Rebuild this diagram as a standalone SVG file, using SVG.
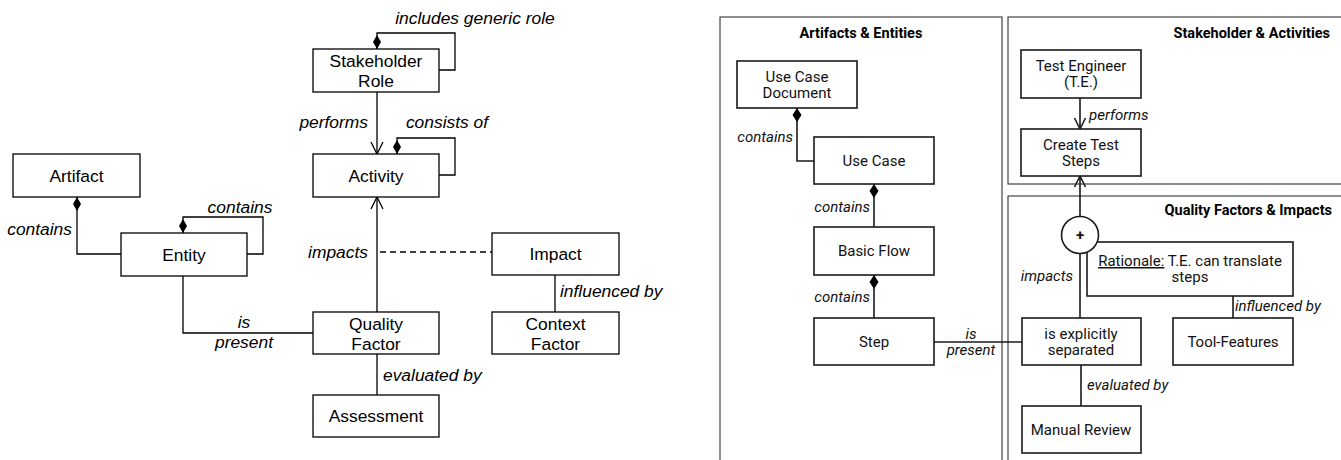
<svg xmlns="http://www.w3.org/2000/svg" width="1341" height="460" viewBox="0 0 1341 460">
<style>
.bx{fill:#fff;stroke:#000;stroke-width:1.3}
.bx2{fill:#fff;stroke:#1a1a1a;stroke-width:1.6}
.ln{fill:none;stroke:#000;stroke-width:1.3}
.ln2{fill:none;stroke:#1a1a1a;stroke-width:1.6}
.ct{fill:none;stroke:#444;stroke-width:1.2}
.t{font-family:"Liberation Sans",Arial,sans-serif;font-size:17.4px;fill:#000;text-anchor:middle}
.l{font-family:"Liberation Sans",Arial,sans-serif;font-size:17.4px;font-style:italic;fill:#000}
.r{font-family:Roboto,"Noto Sans",sans-serif;font-size:15px;fill:#111;text-anchor:middle}
.ri{font-family:Roboto,"Noto Sans",sans-serif;font-size:15px;font-style:italic;fill:#111}
.h{font-family:Roboto,"Noto Sans",sans-serif;font-size:14.5px;font-weight:bold;fill:#000}
</style>
<defs>
<marker id="dia" markerWidth="10" markerHeight="14" refX="5" refY="0" orient="auto" markerUnits="userSpaceOnUse" viewBox="-5 0 10 14"><path d="M0,0 L4.5,6.5 L0,13 L-4.5,6.5 Z" fill="#000"/></marker>
</defs>
<rect width="1341" height="460" fill="#fff"/>

<!-- containers right -->
<g id="containers">
<rect class="ct" x="720" y="17" width="282" height="460"/>
<rect class="ct" x="1008" y="17" width="345" height="167"/>
<rect class="ct" x="1008" y="196" width="345" height="280"/>
<text class="h" x="861" y="38" text-anchor="middle">Artifacts &amp; Entities</text>
<text class="h" x="1330" y="38" text-anchor="end">Stakeholder &amp; Activities</text>
<text class="h" x="1332" y="215" text-anchor="end">Quality Factors &amp; Impacts</text>
</g>

<!-- connectors -->
<g id="connectors">
<!-- left -->
<path class="ln" d="M77,197 V254 H121"/>
<path d="M77,197 L81,204 L77,211 L73,204 Z" fill="#000"/>
<path class="ln" d="M183,233 V217 H263 V254 H247"/>
<path d="M183,233 L179,226 L183,219 L187,226 Z" fill="#000"/>
<path class="ln" d="M183,276 V333 H313"/>
<path class="ln" d="M377,49 V33 H455 V70 H439"/>
<path d="M377,49 L373,42 L377,35 L381,42 Z" fill="#000"/>
<path class="ln" d="M377,92 V154"/>
<path class="ln" d="M371,142 L377,154 L383,142"/>
<path class="ln" d="M397,154 V138 H455 V175 H439"/>
<path d="M397,154 L393,147 L397,140 L401,147 Z" fill="#000"/>
<path class="ln" d="M377,312 V197"/>
<path class="ln" d="M371,209 L377,197 L383,209"/>
<path class="ln" d="M380,252 H492" stroke-dasharray="6,4"/>
<path class="ln" d="M555,275 V312"/>
<path class="ln" d="M377,354 V395"/>
<!-- right -->
<path class="ln2" d="M797,108 V161 H814"/>
<path d="M797,108 L801.5,115 L797,122 L792.5,115 Z" fill="#000"/>
<path class="ln2" d="M874,184 V227"/>
<path d="M874,184 L878.5,191 L874,198 L869.5,191 Z" fill="#000"/>
<path class="ln2" d="M874,275 V318"/>
<path d="M874,275 L878.5,282 L874,289 L869.5,282 Z" fill="#000"/>
<path class="ln2" d="M934,342 H1022"/>
<path class="ln2" d="M1080,98 V129"/>
<path class="ln2" d="M1074.5,118 L1080,129 L1085.5,118"/>
<path class="ln2" d="M1080,217 V176"/>
<path class="ln2" d="M1074.5,187 L1080,176 L1085.5,187"/>
<path class="ln2" d="M1080,318 V253"/>
<path class="ln2" d="M1233,296 V318"/>
<path class="ln2" d="M1081,365 V406"/>
</g>

<!-- left nodes -->
<g id="artifact"><rect class="bx" x="13" y="154" width="127" height="43"/><text class="t" x="76.5" y="181.5">Artifact</text></g>
<g id="stakeholder-role"><rect class="bx" x="313" y="49" width="126" height="43"/><text class="t" x="376" y="67">Stakeholder</text><text class="t" x="376" y="87">Role</text></g>
<g id="activity"><rect class="bx" x="313" y="154" width="126" height="43"/><text class="t" x="376" y="181.5">Activity</text></g>
<g id="entity"><rect class="bx" x="121" y="233" width="126" height="43"/><text class="t" x="184" y="260.5">Entity</text></g>
<g id="quality-factor"><rect class="bx" x="313" y="312" width="126" height="42"/><text class="t" x="376" y="330">Quality</text><text class="t" x="376" y="350">Factor</text></g>
<g id="impact"><rect class="bx" x="492" y="233" width="127" height="42"/><text class="t" x="555.5" y="260">Impact</text></g>
<g id="context-factor"><rect class="bx" x="492" y="312" width="127" height="42"/><text class="t" x="555.5" y="330">Context</text><text class="t" x="555.5" y="350">Factor</text></g>
<g id="assessment"><rect class="bx" x="313" y="395" width="126" height="42"/><text class="t" x="376" y="422">Assessment</text></g>

<!-- left labels -->
<g id="left-labels">
<text class="l" x="72" y="235" text-anchor="end">contains</text>
<text class="l" x="240" y="213" text-anchor="middle">contains</text>
<text class="l" x="475" y="24" text-anchor="middle">includes generic role</text>
<text class="l" x="368" y="128" text-anchor="end">performs</text>
<text class="l" x="447" y="128" text-anchor="middle">consists of</text>
<text class="l" x="368" y="258" text-anchor="end">impacts</text>
<text class="l" x="560" y="297">influenced by</text>
<text class="l" x="383" y="381">evaluated by</text>
<text class="l" x="244" y="328" text-anchor="middle">is</text>
<text class="l" x="244" y="348" text-anchor="middle">present</text>
</g>

<!-- right nodes -->
<g id="use-case-document"><rect class="bx2" x="737" y="61" width="120" height="47"/><text class="r" x="797" y="82">Use Case</text><text class="r" x="797" y="98">Document</text></g>
<g id="use-case"><rect class="bx2" x="814" y="137" width="120" height="47"/><text class="r" x="874" y="166">Use Case</text></g>
<g id="basic-flow"><rect class="bx2" x="814" y="227" width="120" height="48"/><text class="r" x="874" y="256">Basic Flow</text></g>
<g id="step"><rect class="bx2" x="814" y="318" width="120" height="47"/><text class="r" x="874" y="347">Step</text></g>
<g id="test-engineer"><rect class="bx2" x="1021" y="50" width="120" height="48"/><text class="r" x="1081" y="71">Test Engineer</text><text class="r" x="1081" y="87">(T.E.)</text></g>
<g id="create-test-steps"><rect class="bx2" x="1021" y="129" width="120" height="47"/><text class="r" x="1081" y="150">Create Test</text><text class="r" x="1081" y="166">Steps</text></g>
<g id="rationale"><rect class="bx2" x="1087" y="242" width="206" height="54"/><text class="r" x="1190" y="266"><tspan text-decoration="underline">Rationale:</tspan> T.E. can translate</text><text class="r" x="1190" y="282">steps</text></g>
<g id="plus"><circle cx="1080" cy="235" r="18.5" fill="#fff" stroke="#1a1a1a" stroke-width="1.6"/><text class="r" x="1080" y="240" font-weight="bold">+</text></g>
<g id="is-explicitly-separated"><rect class="bx2" x="1022" y="318" width="119" height="47"/><text class="r" x="1081" y="339">is explicitly</text><text class="r" x="1081" y="355">separated</text></g>
<g id="tool-features"><rect class="bx2" x="1173" y="318" width="120" height="47"/><text class="r" x="1233" y="347">Tool-Features</text></g>
<g id="manual-review"><rect class="bx2" x="1022" y="406" width="119" height="47"/><text class="r" x="1081" y="435">Manual Review</text></g>

<!-- right labels -->
<g id="right-labels">
<text class="ri" x="793" y="142" text-anchor="end">contains</text>
<text class="ri" x="870" y="212" text-anchor="end">contains</text>
<text class="ri" x="870" y="302" text-anchor="end">contains</text>
<text class="ri" x="971" y="339" text-anchor="middle">is</text>
<text class="ri" x="971" y="355" text-anchor="middle">present</text>
<text class="ri" x="1089" y="120">performs</text>
<text class="ri" x="1073" y="281" text-anchor="end">impacts</text>
<text class="ri" x="1235" y="311">influenced by</text>
<text class="ri" x="1087" y="390">evaluated by</text>
</g>
</svg>
